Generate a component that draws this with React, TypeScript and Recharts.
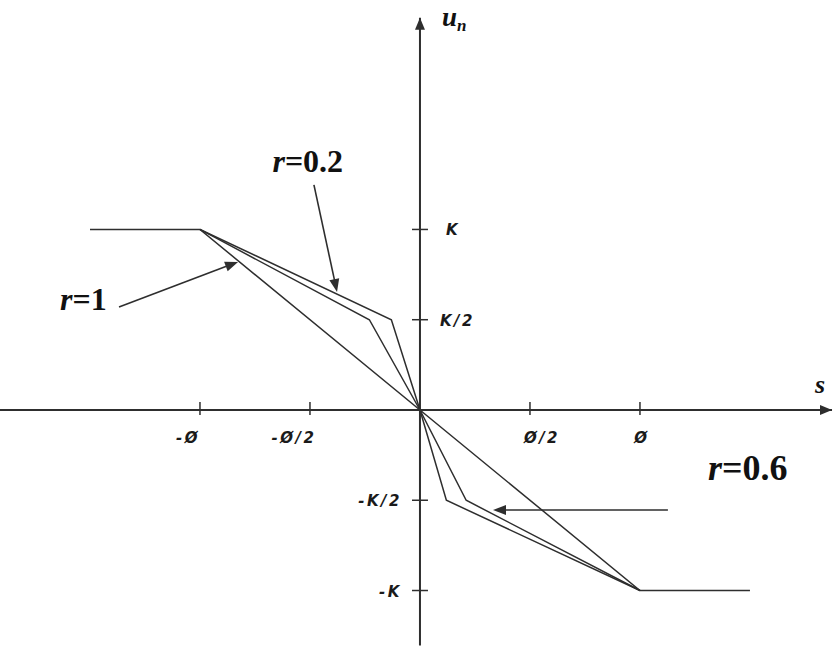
import React from "react";
import {
  ComposedChart,
  Line,
  XAxis,
  YAxis,
  ReferenceLine,
  ReferenceDot,
} from "recharts";

// Piecewise-linear control law u_n(s) for three values of r
const r1Points = [
  { s: -1.5, u: 1 },
  { s: -1, u: 1 },
  { s: 0, u: 0 },
  { s: 1, u: -1 },
  { s: 1.5, u: -1 },
];
const r06Points = [
  { s: -1, u: 1 },
  { s: -0.23, u: 0.5 },
  { s: 0, u: 0 },
  { s: 0.21, u: -0.5 },
  { s: 1, u: -1 },
];
const r02Points = [
  { s: -1, u: 1 },
  { s: -0.13, u: 0.5 },
  { s: 0, u: 0 },
  { s: 0.12, u: -0.5 },
  { s: 1, u: -1 },
];

// Axis ticks
const sTicks = [-1, -0.5, 0.5, 1];
const sTickLabels = ["-Ø", "-Ø/2", "Ø/2", "Ø"];
const uTicks = [1, 0.5, -0.5, -1];
const uTickLabels = ["K", "K/2", "-K/2", "-K"];

// Annotations: r value, label anchor, arrow tail and arrow head (in s,u units)
const noteValues = ["0.2", "1", "0.6"];
const noteLabelAt = [
  { s: -0.51, u: 1.32 },
  { s: -1.53, u: 0.554 },
  { s: 1.49, u: -0.39 },
];
const noteTail = [
  { s: -0.482, u: 1.247 },
  { s: -1.368, u: 0.571 },
  { s: 1.127, u: -0.554 },
];
const noteHead = [
  { s: -0.377, u: 0.654 },
  { s: -0.827, u: 0.82 },
  { s: 0.332, u: -0.554 },
];

const S_DOMAIN: [number, number] = [-1.909, 1.882];
const U_DOMAIN: [number, number] = [-1.324, 2.271];

const INK = "#2e2e2e";
const TICK_FONT = "'DejaVu Sans', Verdana, sans-serif";
const SERIF = "'Liberation Serif', 'Times New Roman', serif";
const sTickDx = [-12, -16, 12, 2];
const noteFontSize = [32, 32, 36];

function arrowHead(x1: number, y1: number, x2: number, y2: number, len: number, half: number) {
  const dx = x2 - x1;
  const dy = y2 - y1;
  const d = Math.hypot(dx, dy) || 1;
  const ux = dx / d;
  const uy = dy / d;
  const bx = x2 - ux * len;
  const by = y2 - uy * len;
  return `${x2},${y2} ${bx - uy * half},${by + ux * half} ${bx + uy * half},${by - ux * half}`;
}

const ArrowLine = (props: any) => {
  const { x1, y1, x2, y2 } = props;
  const len = 13;
  const d = Math.hypot(x2 - x1, y2 - y1) || 1;
  const ex = x2 - ((x2 - x1) / d) * (len - 2);
  const ey = y2 - ((y2 - y1) / d) * (len - 2);
  return (
    <g>
      <line x1={x1} y1={y1} x2={ex} y2={ey} stroke={INK} strokeWidth={1.6} />
      <polygon points={arrowHead(x1, y1, x2, y2, len, 5)} fill={INK} />
    </g>
  );
};

const AxisLine = (props: any) => {
  const { x1, y1, x2, y2 } = props;
  return (
    <g>
      <line x1={x1} y1={y1} x2={x2} y2={y2} stroke={INK} strokeWidth={2} />
      <polygon points={arrowHead(x1, y1, x2, y2, 12, 5)} fill={INK} />
    </g>
  );
};

const tickText = {
  fontFamily: TICK_FONT,
  fontStyle: "italic",
  fontWeight: "bold",
  fontSize: 15,
  letterSpacing: 2.5,
  fill: "#1a1a1a",
} as const;

export default function App() {
  return (
    <div style={{ position: "absolute", left: 0, top: 0, background: "#fff" }}>
      <ComposedChart
        width={834}
        height={649}
        margin={{ top: 0, right: 0, bottom: 0, left: 0 }}
      >
        <XAxis type="number" dataKey="s" domain={S_DOMAIN} hide allowDataOverflow />
        <YAxis type="number" dataKey="u" domain={U_DOMAIN} hide allowDataOverflow />

        {/* coordinate axes with arrowheads */}
        <ReferenceLine
          segment={[
            { x: -1.909, y: 0 },
            { x: 1.873, y: 0 },
          ]}
          shape={AxisLine}
          ifOverflow="visible"
        />
        <ReferenceLine
          segment={[
            { x: 0, y: -1.305 },
            { x: 0, y: 2.172 },
          ]}
          shape={AxisLine}
          ifOverflow="visible"
        />

        {/* s-axis ticks */}
        {sTicks.map((v, i) => (
          <ReferenceDot
            key={`st${i}`}
            x={v}
            y={0}
            r={0}
            ifOverflow="visible"
            shape={(p: any) => (
              <g>
                <line x1={p.cx} y1={p.cy - 8} x2={p.cx} y2={p.cy + 5} stroke={INK} strokeWidth={1.5} />
                <text x={p.cx + sTickDx[i]} y={p.cy + 33} textAnchor="middle" {...tickText}>
                  {sTickLabels[i]}
                </text>
              </g>
            )}
          />
        ))}

        {/* u-axis ticks */}
        {uTicks.map((v, i) => (
          <ReferenceDot
            key={`ut${i}`}
            x={0}
            y={v}
            r={0}
            ifOverflow="visible"
            shape={(p: any) => (
              <g>
                <line x1={p.cx - 8} y1={p.cy} x2={p.cx + 8} y2={p.cy} stroke={INK} strokeWidth={1.5} />
                <text
                  x={v > 0 ? p.cx + (v === 1 ? 26 : 20) : p.cx - 18}
                  y={p.cy + 6}
                  textAnchor={v > 0 ? "start" : "end"}
                  {...tickText}
                >
                  {uTickLabels[i]}
                </text>
              </g>
            )}
          />
        ))}

        {/* axis titles */}
        <ReferenceDot
          x={0}
          y={2.172}
          r={0}
          ifOverflow="visible"
          shape={(p: any) => (
            <text x={p.cx + 22} y={p.cy + 8} fontFamily={SERIF} fontWeight="bold" fontStyle="italic" fontSize={27} fill="#111">
              u<tspan fontSize={17} dy={5}>n</tspan>
            </text>
          )}
        />
        <ReferenceDot
          x={1.873}
          y={0}
          r={0}
          ifOverflow="visible"
          shape={(p: any) => (
            <text x={p.cx - 17} y={p.cy - 17} fontFamily={SERIF} fontWeight="bold" fontStyle="italic" fontSize={26} fill="#111">
              s
            </text>
          )}
        />

        {/* u_n(s) curves */}
        <Line data={r1Points} dataKey="u" type="linear" stroke={INK} strokeWidth={1.5} dot={false} activeDot={false} isAnimationActive={false} />
        <Line data={r06Points} dataKey="u" type="linear" stroke={INK} strokeWidth={1.5} dot={false} activeDot={false} isAnimationActive={false} />
        <Line data={r02Points} dataKey="u" type="linear" stroke={INK} strokeWidth={1.5} dot={false} activeDot={false} isAnimationActive={false} />

        {/* r annotations */}
        {noteValues.map((val, i) => (
          <ReferenceLine
            key={`na${i}`}
            segment={[
              { x: noteTail[i].s, y: noteTail[i].u },
              { x: noteHead[i].s, y: noteHead[i].u },
            ]}
            shape={ArrowLine}
            ifOverflow="visible"
          />
        ))}
        {noteValues.map((val, i) => (
          <ReferenceDot
            key={`nl${i}`}
            x={noteLabelAt[i].s}
            y={noteLabelAt[i].u}
            r={0}
            ifOverflow="visible"
            shape={(p: any) => (
              <text x={p.cx} y={p.cy} textAnchor="middle" fontFamily={SERIF} fontWeight="bold" fontSize={noteFontSize[i]} fill="#111">
                <tspan fontStyle="italic">r</tspan>={val}
              </text>
            )}
          />
        ))}
      </ComposedChart>
    </div>
  );
}
